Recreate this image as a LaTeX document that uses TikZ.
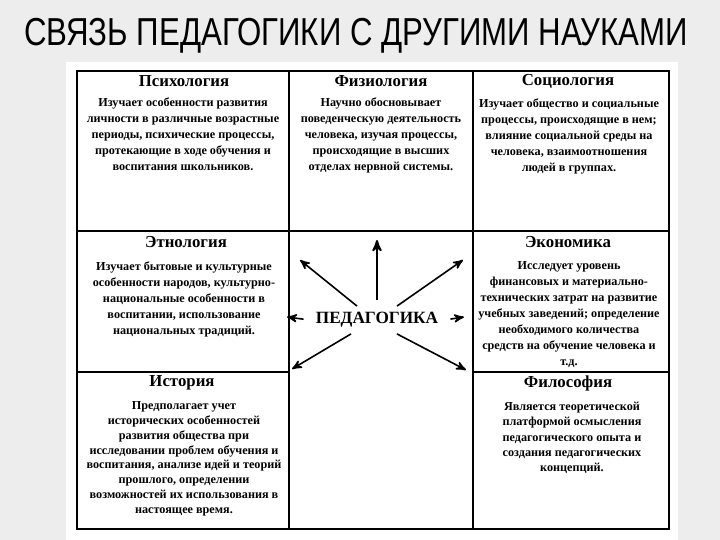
\documentclass[tikz,border=0pt]{standalone}
\usepackage{fontspec}
\setmainfont{Liberation Serif}
\newfontfamily\titlefont[FakeStretch=0.8]{Liberation Sans}
\usepackage{tikz}
\usetikzlibrary{positioning,shapes,arrows}

\tikzset{
  head/.style={font=\bfseries\fontsize{8.4}{9}\selectfont, inner sep=0pt},
  body/.style={font=\bfseries\fontsize{6.1}{8}\selectfont, align=center, anchor=north, inner sep=0pt},
  grid/.style={line width=0.6pt}
}

\begin{document}
\begin{tikzpicture}[x=0.5pt, y=-0.5pt]
				\useasboundingbox (0,0) rectangle (720,540);
				\fill[gray!14] (0,0) rectangle (720,540);
				\fill[white] (66,62) rectangle (678,540);
				\node[font=\titlefont\fontsize{19.5}{20}\selectfont, inner sep=0pt] (title) at (356,36) {СВЯЗЬ ПЕДАГОГИКИ С ДРУГИМИ НАУКАМИ};
				% table
				\draw[line width=0.9pt] (77,71) rectangle (669,529);
				\draw[grid] (77,231) -- (669,231);
				\draw[grid] (77,372) -- (289,372);
				\draw[grid] (473,372) -- (669,372);
				\draw[grid] (289,71) -- (289,529);
				\draw[grid] (473,71) -- (473,529);
				% top row
				\node[head] (psy) at (184,81) {Психология};
				\node[body] (psyT) at (183,97) {Изучает особенности развития\\личности в различные возрастные\\периоды, психические процессы,\\протекающие в ходе обучения и\\воспитания школьников.};
				\node[head] (fiz) at (381,81) {Физиология};
				\node[body] (fizT) at (381,97) {Научно обосновывает\\поведенческую деятельность\\человека, изучая процессы,\\происходящие в высших\\отделах нервной системы.};
				\node[head] (soc) at (568,81) {Социология};
				\node[body] (socT) at (569,98) {Изучает общество и социальные\\процессы, происходящие в нем;\\влияние социальной среды на\\человека, взаимоотношения\\людей в группах.};
				% middle row
				\node[head] (eth) at (186,242) {Этнология};
				\node[body] (ethT) at (184,261) {Изучает бытовые и культурные\\особенности народов, культурно-\\национальные особенности в\\воспитании, использование\\национальных традиций.};
				\node[head] (eco) at (568,242) {Экономика};
				\node[body] (ecoT) at (569,261) {Исследует уровень\\финансовых и материально-\\технических затрат на развитие\\учебных заведений; определение\\необходимого количества\\средств на обучение человека и\\т.д.};
				% bottom row
				\node[head] (his) at (182,383) {История};
				\node[body, font=\bfseries\fontsize{6.1}{7.45}\selectfont] (hisT) at (184,401) {Предполагает учет\\исторических особенностей\\развития общества при\\исследовании проблем обучения и\\воспитания, анализе идей и теорий\\прошлого, определении\\возможностей их использования в\\настоящее время.};
				\node[head] (phi) at (568,383) {Философия};
				\node[body, font=\bfseries\fontsize{6.1}{7.6}\selectfont] (phiT) at (572,402) {Является теоретической\\платформой осмысления\\педагогического опыта и\\создания педагогических\\концепций.};
				% centre
				\node[font=\bfseries\fontsize{8.6}{9}\selectfont, inner sep=3pt] (ped) at (377,320) {ПЕДАГОГИКА};
				\coordinate (tN) at (377,240);
				\coordinate (tNW) at (300,260);
				\coordinate (tNE) at (463,260);
				\coordinate (tW) at (287,317);
				\coordinate (tE) at (464,317);
				\coordinate (tSW) at (292,369);
				\coordinate (tSE) at (466,370);
				\draw[->, >=stealth', line width=1pt, shorten <=3pt] (ped.north) -- (tN);
				\draw[->, >=stealth', line width=0.8pt] ([xshift=-10pt]ped.north) -- (tNW);
				\draw[->, >=stealth', line width=0.8pt] ([xshift=10pt]ped.north) -- (tNE);
				\draw[->, >=stealth', line width=0.8pt, shorten <=3pt] (ped.west) -- (tW);
				\draw[->, >=stealth', line width=0.8pt, shorten <=3pt] (ped.east) -- (tE);
				\draw[->, >=stealth', line width=0.8pt] ([xshift=-13pt]ped.south) -- (tSW);
				\draw[->, >=stealth', line width=0.8pt] ([xshift=10pt]ped.south) -- (tSE);
			\end{tikzpicture}
\end{document}
